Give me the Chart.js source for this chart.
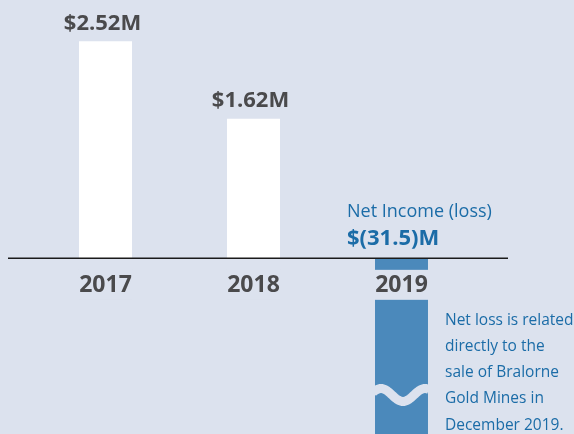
<!DOCTYPE html>
<html lang="en">
<head>
    <meta charset="UTF-8">
    <title>Net Income</title>
    <script src="https://cdn.jsdelivr.net/npm/chart.js@4"></script>
    <style>
        html, body { margin: 0; padding: 0; background: #dce2ee; }
        #wrap { width: 574px; height: 434px; position: relative; }
    </style>
</head>
<body>
    <div id="wrap"><canvas id="chart"></canvas></div>

    <script>
        // data
        const years = ['2017', '2018', '2019'];
        const netIncome = [2.52, 1.62, -31.5];
        const valueLabels = ['$2.52M', '$1.62M', '$(31.5)M'];
        const lossTitle = 'Net Income (loss)';
        const noteLines = ['Net loss is related', 'directly to the', 'sale of Bralorne', 'Gold Mines in', 'December 2019.'];

        const BG = '#dce2ee';
        const GREY = '#4a4a4c';
        const BLUE_TEXT = '#1b6ca7';
        const BLUE_BAR = '#4b89bb';
        const FONT = '"Open Sans", sans-serif';

        // labels, baseline, year tags and the wavy break
        const decor = {
            id: 'decor',
            afterDatasetsDraw(chart) {
                const ctx = chart.ctx;
                const y = chart.scales.y;
                const area = chart.chartArea;
                const zeroY = y.getPixelForValue(0);
                const bars = chart.getDatasetMeta(0).data;
                ctx.save();

                bars.forEach((bar, i) => {
                    const w = bar.width;
                    // box behind year label (cuts the negative bar)
                    ctx.fillStyle = BG;
                    ctx.fillRect(bar.x - w / 2 - 1, zeroY + 11.5, w + 2, 30);

                    ctx.fillStyle = GREY;
                    ctx.font = 'bold 23px ' + FONT;
                    ctx.textAlign = 'center';
                    ctx.textBaseline = 'middle';
                    ctx.fillText(years[i], bar.x, zeroY + 27);

                    if (netIncome[i] >= 0) {
                        ctx.font = 'bold 22px ' + FONT;
                        ctx.fillText(valueLabels[i], bar.x - 3, bar.y - 18);
                    } else {
                        // wavy break
                        ctx.strokeStyle = BG;
                        ctx.lineWidth = 9;
                        ctx.beginPath();
                        const yc = area.bottom - 39;
                        for (let t = -2; t <= w + 2; t++) {
                            const py = yc - 6.5 * Math.cos(2 * Math.PI * (t - 6) / 44);
                            if (t === -2) ctx.moveTo(bar.x - w / 2 + t, py);
                            else ctx.lineTo(bar.x - w / 2 + t, py);
                        }
                        ctx.stroke();

                        const left = bar.x - w / 2 - 28;
                        ctx.textAlign = 'left';
                        ctx.fillStyle = BLUE_TEXT;
                        ctx.font = '18px ' + FONT;
                        ctx.fillText(lossTitle, left, zeroY - 46);
                        ctx.font = 'bold 22px ' + FONT;
                        ctx.fillText(valueLabels[i], left, zeroY - 20);

                        ctx.font = '15.5px ' + FONT;
                        noteLines.forEach((line, j) => {
                            ctx.fillText(line, bar.x + w / 2 + 17, zeroY + 62 + j * 26.2);
                        });
                    }
                });

                // baseline
                ctx.strokeStyle = '#1a1a1a';
                ctx.lineWidth = 1.5;
                ctx.beginPath();
                ctx.moveTo(area.left - 23.5, zeroY);
                ctx.lineTo(area.right + 32.5, zeroY);
                ctx.stroke();

                ctx.restore();
            }
        };

        new Chart(document.getElementById('chart'), {
            type: 'bar',
            data: {
                labels: years,
                datasets: [{
                    data: netIncome,
                    backgroundColor: netIncome.map(v => v < 0 ? BLUE_BAR : '#ffffff'),
                    borderWidth: 0,
                    barPercentage: 0.358,
                    categoryPercentage: 1
                }]
            },
            options: {
                responsive: true,
                maintainAspectRatio: false,
                animation: false,
                layout: { padding: { left: 31.5, right: 98.5, top: 0, bottom: 0 } },
                scales: {
                    x: { display: false },
                    y: { display: false, min: -2.04, max: 3.0 }
                },
                plugins: {
                    legend: { display: false },
                    tooltip: { enabled: false }
                }
            },
            plugins: [decor]
        });
    </script>
</body>
</html>
